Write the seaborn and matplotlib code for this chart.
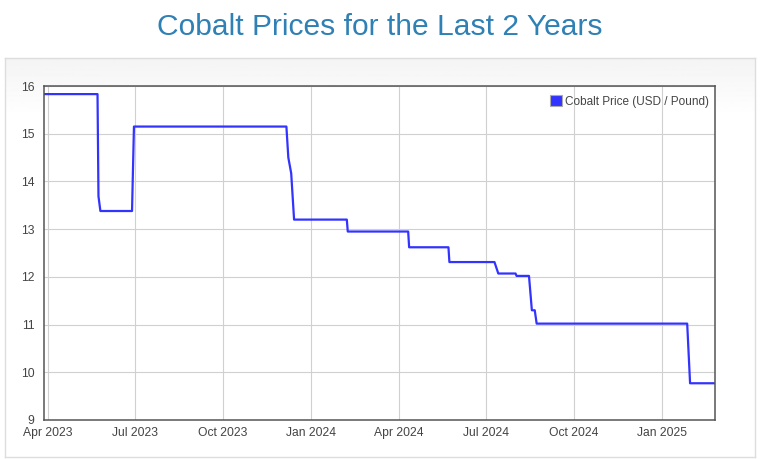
import numpy as np
import pandas as pd
import matplotlib
matplotlib.use("Agg")
from matplotlib import pyplot as plt
import matplotlib.dates as mdates
from matplotlib.patches import Patch
import seaborn as sns

# price breakpoints
dates = ["2023-03-28", "2023-05-23", "2023-05-24", "2023-05-26", "2023-06-28",
         "2023-06-30", "2023-12-06", "2023-12-08", "2023-12-11", "2023-12-14",
         "2024-02-07", "2024-02-08", "2024-04-11", "2024-04-12", "2024-05-23",
         "2024-05-24", "2024-07-10", "2024-07-14", "2024-08-01", "2024-08-02",
         "2024-08-15", "2024-08-18", "2024-08-21", "2024-08-23", "2025-01-27",
         "2025-01-30", "2025-02-25"]
prices = [15.83, 15.83, 13.69, 13.38, 13.38,
          15.15, 15.15, 14.50, 14.17, 13.20,
          13.20, 12.95, 12.95, 12.62, 12.62,
          12.31, 12.31, 12.07, 12.07, 12.02,
          12.02, 11.30, 11.30, 11.02, 11.02,
          9.77, 9.77]
tick_dates = ["2023-04-01", "2023-07-01", "2023-10-01", "2024-01-01",
              "2024-04-01", "2024-07-01", "2024-10-01", "2025-01-01"]
y_ticks = [9, 10, 11, 12, 13, 14, 15, 16]
series_name = "Cobalt Price (USD / Pound)"
title = "Cobalt Prices for the Last 2 Years"


def main():
    sns.set_style("white")
    plt.rcParams['font.family'] = ['Liberation Sans', 'DejaVu Sans']

    df = pd.DataFrame({"date": pd.to_datetime(dates), "price": prices})

    fig = plt.figure(figsize=(7.6, 4.59), dpi=100)

    # chart panel with light gradient at the top
    bg = fig.add_axes([5 / 760, 1 - 457 / 459, 750 / 760, 399 / 459])
    grad = np.ones((400, 1))
    grad[:60, 0] = np.linspace(0.955, 1.0, 60)
    bg.imshow(grad, cmap="gray", vmin=0, vmax=1, aspect="auto",
              extent=[0, 1, 0, 1])
    bg.set_xticks([])
    bg.set_yticks([])
    for s in bg.spines.values():
        s.set_color("#dddddd")
        s.set_linewidth(1)

    fig.text(0.5, 1 - 35 / 459, title, ha="center", va="baseline",
             fontsize=21.6, color="#2f80b5")

    ax = fig.add_axes([44.3 / 760, 1 - 420 / 459, 670.7 / 760, 334 / 459])
    ax.set_facecolor("white")
    sns.lineplot(data=df, x="date", y="price", ax=ax, color="#3333ff",
                 linewidth=1.6, estimator=None, sort=False)

    ax.set_xlim(pd.Timestamp("2023-03-28 12:00"), pd.Timestamp("2025-02-25"))
    ax.set_ylim(9, 16)
    ax.set_yticks(y_ticks)
    ax.set_xticks(pd.to_datetime(tick_dates))
    ax.xaxis.set_major_formatter(mdates.DateFormatter("%b %Y"))
    ax.grid(True, color="#d0d0d0", linewidth=0.8)
    ax.set_axisbelow(True)
    ax.tick_params(length=0, labelsize=8.7, colors="#444444")
    ax.tick_params(axis="y", pad=7)
    ax.tick_params(axis="x", pad=5)
    ax.set_xlabel("")
    ax.set_ylabel("")
    for s in ax.spines.values():
        s.set_color("#555555")
        s.set_linewidth(1.1)

    handle = Patch(facecolor="#3333ff", edgecolor="#aaaaaa", linewidth=0.8)
    ax.legend([handle], [series_name], loc="upper right", frameon=False,
              bbox_to_anchor=(1, 1 - 3 / 334),
              fontsize=8.5, handlelength=1.0, handleheight=1.0,
              handletextpad=0.2, borderaxespad=0.15, borderpad=0.4,
              labelcolor="#444444")

    plt.savefig("out.png", dpi=100)


if __name__ == "__main__":
    main()
